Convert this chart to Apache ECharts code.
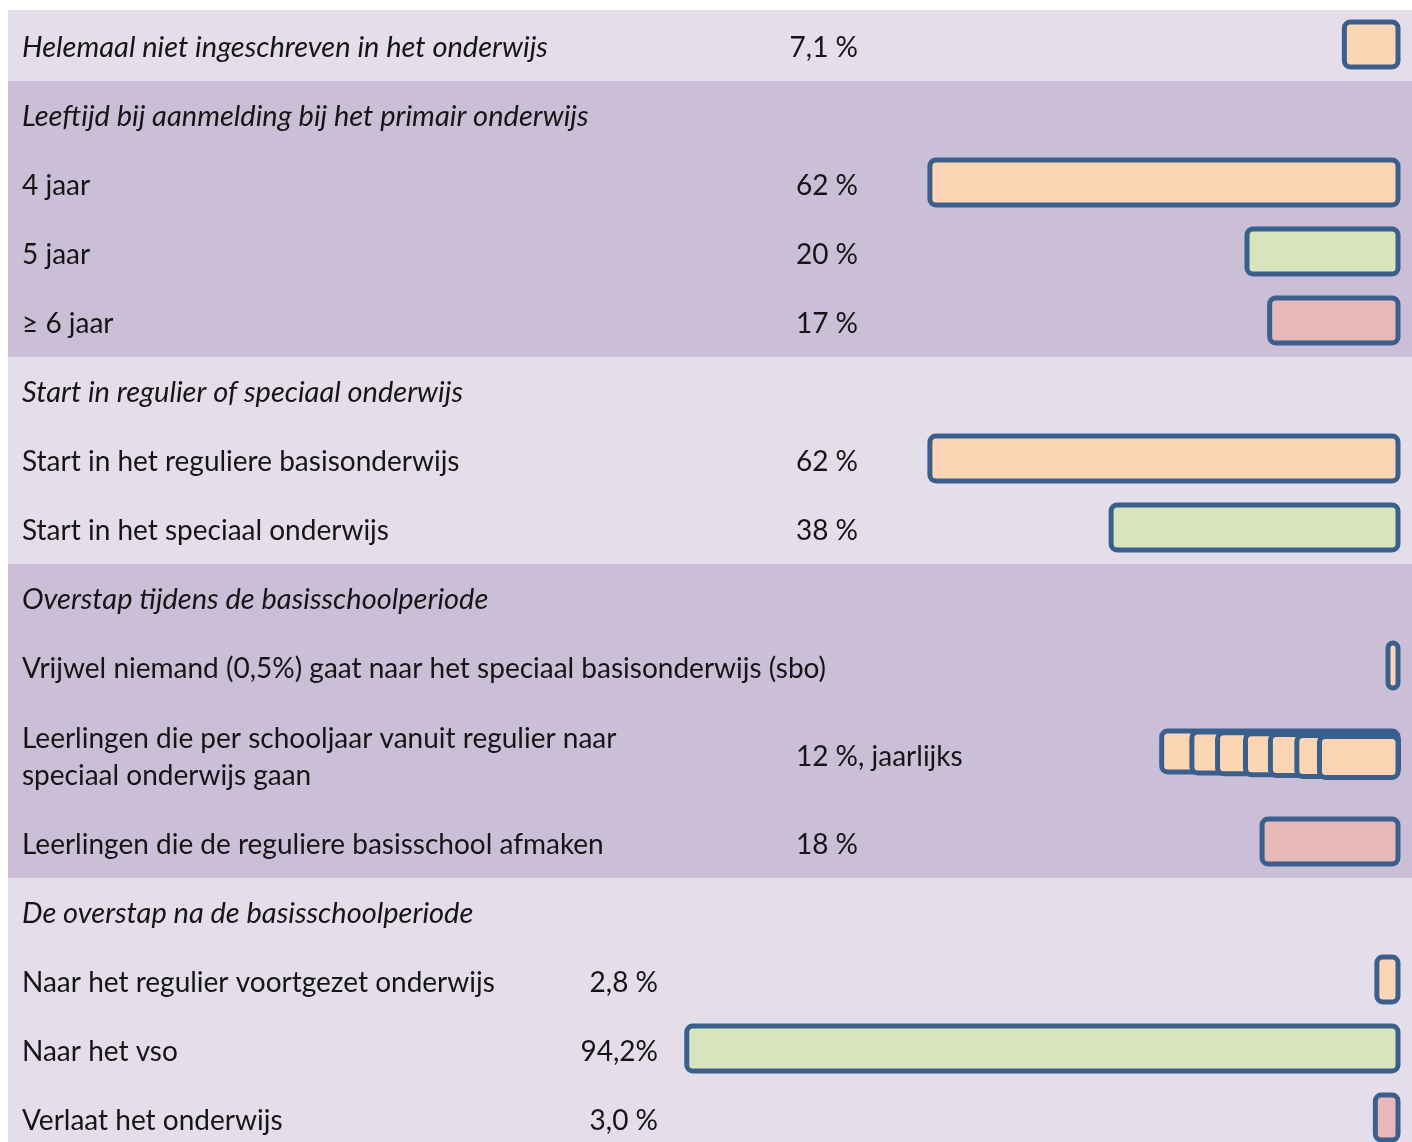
<!DOCTYPE html>
<html><head><meta charset="utf-8">
<script src="https://cdn.jsdelivr.net/npm/echarts@6/dist/echarts.min.js"></script>
<style>html,body{margin:0;padding:0;background:#fff}#c{width:1412px;height:1142px}</style>
</head><body><div id="c"></div>
<script>
// ---- data ----
const labels = [
  'Helemaal niet ingeschreven in het onderwijs',
  'Leeftijd bij aanmelding bij het primair onderwijs',
  '4 jaar',
  '5 jaar',
  '≥ 6 jaar',
  'Start in regulier of speciaal onderwijs',
  'Start in het reguliere basisonderwijs',
  'Start in het speciaal onderwijs',
  'Overstap tijdens de basisschoolperiode',
  'Vrijwel niemand (0,5%) gaat naar het speciaal basisonderwijs (sbo)',
  'Leerlingen die per schooljaar vanuit regulier naar\nspeciaal onderwijs gaan',
  'Leerlingen die de reguliere basisschool afmaken',
  'De overstap na de basisschoolperiode',
  'Naar het regulier voortgezet onderwijs',
  'Naar het vso',
  'Verlaat het onderwijs'
];
const italicRows = [true, true, false, false, false, true, false, false, true, false, false, false, true, false, false, false];
const values = [7.1, null, 62, 20, 17, null, 62, 38, null, 0.5, null, 18, null, 2.8, 94.2, 3.0];
const yearlyRow = 10;
const yearlySteps = [31.3, 27.3, 23.9, 20.2, 16.9, 13.4, 10.4];
const valueTexts = ['7,1 %', '', '62 %', '20 %', '17 %', '', '62 %', '38 %', '', '', '12 %', '18 %', '', '2,8 %', '94,2%', '3,0 %'];
const valueSuffix = ['', '', '', '', '', '', '', '', '', '', ', jaarlijks', '', '', '', '', ''];
const barColorIndex = [0, null, 0, 1, 2, null, 0, 1, null, 0, 0, 2, null, 0, 1, 2];
const sections = [[0, 0], [1, 4], [5, 7], [8, 11], [12, 15]];

// ---- styles ----
const bandColors = ['#E4DEEA', '#CBBFD8'];
const barColors = ['#FCD5B5', '#D8E4BC', '#E6B9B8'];
const borderColor = '#3B5F8D';
const textColor = '#151515';
const FONT = 'Lato';

// ---- layout in row units ----
const rowH = labels.map(l => l.indexOf('\n') >= 0 ? 1.55 : 1);
const rowTop = [];
let acc = 0;
rowH.forEach((h, i) => { rowTop[i] = acc; acc += h; });
const rowCenter = i => rowTop[i] + rowH[i] / 2;
const sectionOf = r => sections.findIndex(s => r >= s[0] && r <= s[1]);

const bandData = sections.map((s, k) => [0, rowTop[s[0]], rowTop[s[1]] + rowH[s[1]], k]);

const barData = [];
values.forEach((v, i) => {
  if (v != null) barData.push([v, rowCenter(i), barColorIndex[i], -1]);
});
yearlySteps.forEach((v, k) => barData.push([v, rowCenter(yearlyRow), barColorIndex[yearlyRow], k]));

const textData = labels.map((l, i) => [0, rowCenter(i), i]);

const chart = echarts.init(document.getElementById('c'), null, {renderer: 'canvas'});
chart.setOption({
  animation: false,
  backgroundColor: '#ffffff',
  grid: {left: 8, right: 14, top: 12, bottom: 0},
  xAxis: {type: 'value', inverse: true, min: 0, max: 1390 / 7.55, show: false},
  yAxis: {type: 'value', inverse: true, min: 0, max: 1130 / 69, show: false},
  series: [
    {
      type: 'custom', clip: false, silent: true, z: 1,
      data: bandData,
      renderItem: (params, api) => {
        const y0 = api.coord([0, api.value(1)])[1];
        const y1 = api.coord([0, api.value(2)])[1];
        const k = api.value(3);
        return {type: 'rect', shape: {x: 8, y: y0 - (k === 0 ? 2 : 0), width: api.getWidth() - 8, height: y1 - y0 + (k === 0 ? 2 : 0)},
          style: {fill: bandColors[k % 2]}};
      }
    },
    {
      type: 'custom', clip: false, silent: true, z: 3,
      data: barData,
      renderItem: (params, api) => {
        const v = api.value(0), yc = api.value(1), ci = api.value(2), layer = api.value(3);
        const p0 = api.coord([0, yc]);
        const p1 = api.coord([v, yc]);
        const w = Math.max(p0[0] - p1[0], 10);
        let h = 45, cy = p0[1] - 2;
        if (layer >= 0) { h = 41; cy = p0[1] - 4 + layer * 0.9; }
        return {type: 'rect', shape: {x: p0[0] - w, y: cy - h / 2, width: w, height: h, r: 6},
          style: {fill: barColors[ci], stroke: borderColor, lineWidth: 5}};
      }
    },
    {
      type: 'custom', clip: false, silent: true, z: 4,
      data: textData,
      renderItem: (params, api) => {
        const i = api.value(2);
        const y = api.coord([0, api.value(1)])[1] + 1.5;
        const base = {fill: textColor, fontFamily: FONT, fontSize: 28, verticalAlign: 'middle'};
        const anchor = sectionOf(i) === 4 ? 658 : 858;
        const children = [
          {type: 'text', x: 22, y: y, style: Object.assign({}, base, {text: labels[i], align: 'left',
            fontStyle: italicRows[i] ? 'italic' : 'normal', fontSize: italicRows[i] ? 29 : 28, lineHeight: 37})}
        ];
        if (valueTexts[i]) children.push({type: 'text', x: anchor, y: y,
          style: Object.assign({}, base, {text: valueTexts[i], align: 'right'})});
        if (valueSuffix[i]) children.push({type: 'text', x: anchor, y: y,
          style: Object.assign({}, base, {text: valueSuffix[i], align: 'left'})});
        return {type: 'group', children};
      }
    }
  ]
});
</script></body></html>
